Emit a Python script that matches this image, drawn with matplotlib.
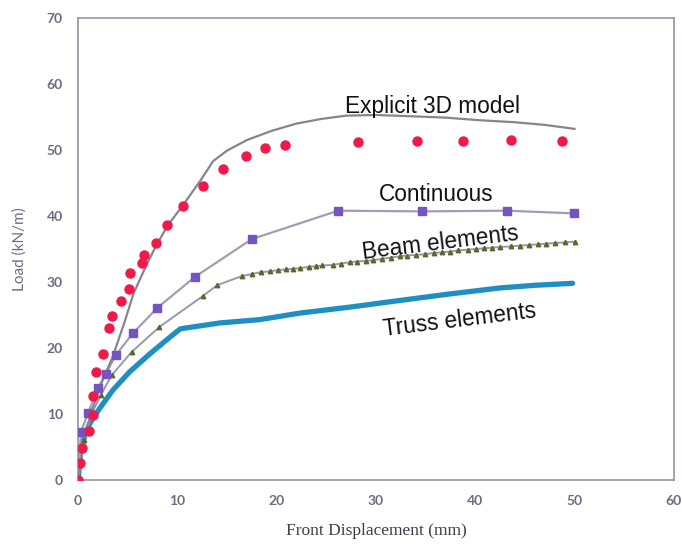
import matplotlib
matplotlib.use('Agg')
import matplotlib.pyplot as plt

OUTPUT_PLOT = 'out.png'

# Explicit 3D model - smooth curve
explicit_x = [0, 0.7, 1.5, 2.5, 3.5, 4.7, 5.6, 6.2, 7.0, 7.8, 9.0, 10.5, 12.3, 13.6, 15.0,
              17.0, 19.5, 22.0, 24.5, 27.0, 30.0, 33.7, 37.0, 40.5, 44.0, 47.0, 50.0]
explicit_y = [0, 7.0, 11.0, 15.2, 18.7, 24.0, 28.3, 30.3, 32.9, 35.3, 38.5, 41.5, 45.3, 48.3, 49.9,
              51.5, 52.9, 54.0, 54.7, 55.2, 55.3, 55.1, 54.9, 54.5, 54.2, 53.8, 53.2]

# Test points (red dots)
test_x = [0, 0.2, 0.4, 1.1, 1.5, 1.5, 1.8, 2.5, 3.1, 3.4, 4.3, 5.1, 5.2, 6.4, 6.6, 7.9,
          9.0, 10.6, 12.6, 14.6, 16.9, 18.8, 20.8, 28.2, 34.1, 38.8, 43.6, 48.7]
test_y = [0, 2.6, 4.8, 7.4, 9.8, 12.7, 16.4, 19.1, 23.0, 24.9, 27.1, 28.9, 31.4, 32.9, 34.1, 35.9,
          38.6, 41.5, 44.5, 47.1, 49.1, 50.3, 50.8, 51.2, 51.4, 51.4, 51.5, 51.4]

# Continuous model
cont_x = [0, 0.3, 1.0, 2.0, 2.8, 3.8, 5.5, 8.0, 11.8, 17.5, 26.2, 34.6, 43.2, 49.9]
cont_y = [0, 7.3, 10.1, 13.9, 16.1, 18.9, 22.2, 26.1, 30.8, 36.5, 40.8, 40.7, 40.8, 40.4]

# Beam elements model
beam_x = [0, 0.6, 1.3, 2.3, 3.4, 5.4, 8.2, 12.6, 14.0, 16.5, 17.5, 18.4, 19.3, 20.1, 20.9,
          21.6, 22.4, 23.3, 24.0, 24.6, 25.7, 26.5, 27.4, 28.1, 29.0, 29.7, 30.6, 31.5,
          32.4, 33.1, 34.0, 34.9, 35.8, 36.7, 37.5, 38.3, 39.3, 40.1, 40.9, 41.7, 42.5,
          43.6, 44.5, 45.4, 46.3, 47.1, 48.0, 49.0, 50.0]
beam_y = [0, 6.0, 9.8, 12.9, 15.9, 19.4, 23.2, 27.9, 29.5, 30.9, 31.2, 31.5, 31.6, 31.8, 31.9,
          32.0, 32.1, 32.3, 32.4, 32.5, 32.6, 32.8, 33.0, 33.1, 33.2, 33.3, 33.5, 33.7,
          33.9, 34.0, 34.1, 34.2, 34.4, 34.5, 34.6, 34.8, 34.9, 35.0, 35.1, 35.2, 35.3,
          35.4, 35.5, 35.6, 35.7, 35.8, 35.9, 36.0, 36.1]

# Truss elements model
truss_x = [0, 0.3, 0.7, 1.2, 2.2, 3.5, 5.2, 7.3, 9.3, 10.3, 11.6, 14.3, 18.3, 22.4, 27.4,
           32.4, 37.5, 42.5, 46.0, 49.8]
truss_y = [0, 4.5, 6.8, 8.6, 10.9, 13.6, 16.4, 19.2, 21.7, 22.9, 23.2, 23.8, 24.3, 25.3, 26.2,
           27.2, 28.2, 29.1, 29.5, 29.8]

x_ticks = [0, 10, 20, 30, 40, 50, 60]
y_ticks = [0, 10, 20, 30, 40, 50, 60, 70]

frame_col = '#8a8aa2'
text_col = '#6c6c82'

fig = plt.figure(figsize=(6.82, 5.44), dpi=100)
ax = fig.add_axes([0.1144, 0.1176, 0.8736, 0.8494])

ax.plot(truss_x, truss_y, color='#1f8fc3', lw=3.8, solid_capstyle='round', zorder=2)
ax.plot(beam_x, beam_y, color='#9a98a8', lw=1.4, zorder=3)
ax.plot(beam_x, beam_y, ls='none', marker='^', ms=3.2, color='#566a2c', zorder=4)
ax.plot(cont_x, cont_y, color='#a49cb2', lw=1.6, zorder=3)
ax.plot(cont_x[1:], cont_y[1:], ls='none', marker='s', ms=5.5, color='#7354c0', zorder=4)
ax.plot(explicit_x, explicit_y, color='#85858f', lw=1.6, zorder=3)
ax.plot(test_x, test_y, ls='none', marker='o', ms=6.5, color='#f01a4a', zorder=5)

# curve labels
label_kw = dict(family='Liberation Sans', fontsize=16.3, color='#111111')
ax.text(35.65, 55.6, 'Explicit 3D model', ha='center', va='baseline', **label_kw)
ax.text(36.1, 42.2, 'Continuous', ha='center', va='baseline', **label_kw)
ax.text(36.5, 35.9, 'Beam elements', ha='center', va='center', rotation=7,
        rotation_mode='anchor', **label_kw)
ax.text(38.4, 24.2, 'Truss elements', ha='center', va='center', rotation=7,
        rotation_mode='anchor', **label_kw)

ax.set_xlim(0, 60)
ax.set_ylim(0, 70)
ax.set_xticks(x_ticks)
ax.set_yticks(y_ticks)
ax.tick_params(length=0, pad=11, labelsize=10, labelcolor=text_col)
for lab in ax.get_xticklabels() + ax.get_yticklabels():
    lab.set_family('Lato')
    lab.set_fontweight('bold')
for sp in ax.spines.values():
    sp.set_color(frame_col)
    sp.set_linewidth(1.1)

ax.set_xlabel('Front Displacement (mm)', family='Liberation Serif', fontsize=12.5,
              color='#3c3c4c', labelpad=11)
ax.set_ylabel('Load (kN/m)', family='Lato', fontsize=11, color=text_col, labelpad=14)

fig.savefig(OUTPUT_PLOT, dpi=100)
